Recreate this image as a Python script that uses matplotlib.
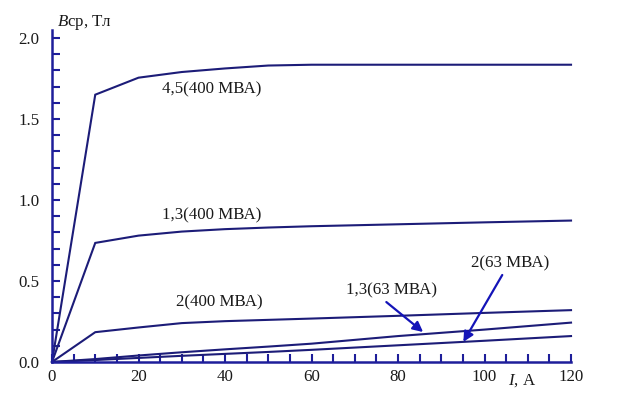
import numpy as np
import matplotlib
matplotlib.use("Agg")
import matplotlib.pyplot as plt
from matplotlib.ticker import MultipleLocator


# =============================
# DATA
# =============================

current_a = [0, 10, 20, 30, 40, 50, 60, 80, 100, 120]

b_45_400 = [0, 1.65, 1.755, 1.79, 1.812, 1.83, 1.835, 1.835, 1.835, 1.835]
b_13_400 = [0, 0.735, 0.78, 0.805, 0.82, 0.83, 0.838, 0.85, 0.862, 0.873]
b_2_400 = [0, 0.184, 0.213, 0.24, 0.252, 0.26, 0.268, 0.285, 0.303, 0.32]
b_13_63 = [0, 0.018, 0.04, 0.06, 0.078, 0.095, 0.113, 0.16, 0.2, 0.243]
b_2_63 = [0, 0.012, 0.025, 0.038, 0.05, 0.062, 0.075, 0.103, 0.131, 0.16]

x_ticks = [0, 20, 40, 60, 80, 100, 120]
y_ticks = [0.0, 0.5, 1.0, 1.5, 2.0]


# =============================
# STYLE
# =============================

plt.rcParams["font.family"] = ["Liberation Serif", "DejaVu Serif"]
plt.rcParams["mathtext.fontset"] = "custom"
plt.rcParams["mathtext.it"] = "Liberation Serif:italic"
plt.rcParams["mathtext.rm"] = "Liberation Serif"

LINE_COLOR = "#1c1c78"
AXIS_COLOR = "#1e1e9a"
ARROW_COLOR = "#1414b8"
TEXT_COLOR = "#1a1a1a"
FS = 12.2


# =============================
# PLOT
# =============================

fig = plt.figure(figsize=(6.19, 4.04), dpi=100)
ax = fig.add_axes([0.084, 0.104, 0.8385, 0.822])

for series in (b_45_400, b_13_400, b_2_400, b_13_63, b_2_63):
    ax.plot(current_a, series, color=LINE_COLOR, linewidth=1.5,
            solid_joinstyle="miter", clip_on=False)

ax.set_xlim(0, 120)
ax.set_ylim(0, 2.05)

ax.spines["top"].set_visible(False)
ax.spines["right"].set_visible(False)
for side in ("left", "bottom"):
    ax.spines[side].set_color(AXIS_COLOR)
    ax.spines[side].set_linewidth(1.8)

ax.set_xticks(x_ticks)
ax.set_yticks(y_ticks)
ax.set_yticklabels([f"{v:.1f}" for v in y_ticks])
ax.xaxis.set_minor_locator(MultipleLocator(5))
ax.yaxis.set_minor_locator(MultipleLocator(0.1))
ax.tick_params(which="both", direction="in", length=6, width=1.5,
               color=AXIS_COLOR, labelcolor=TEXT_COLOR, labelsize=FS)
ax.tick_params(axis="x", pad=5)
ax.tick_params(axis="y", pad=9)

# axis captions
ax.text(0.01, 1.022, "$B$ср, Тл", transform=ax.transAxes, fontsize=FS,
        color=TEXT_COLOR, ha="left", va="center")
ax.text(0.905, -0.055, "$I$, А", transform=ax.transAxes, fontsize=FS,
        color=TEXT_COLOR, ha="center", va="center")

# curve labels
ax.text(37, 1.68, "4,5(400 МВА)", fontsize=FS, color=TEXT_COLOR,
        ha="center", va="center")
ax.text(37, 0.906, "1,3(400 МВА)", fontsize=FS, color=TEXT_COLOR,
        ha="center", va="center")
ax.text(38.6, 0.365, "2(400 МВА)", fontsize=FS, color=TEXT_COLOR,
        ha="center", va="center")
ax.text(78.5, 0.44, "1,3(63 МВА)", fontsize=FS, color=TEXT_COLOR,
        ha="center", va="center")
ax.text(106, 0.61, "2(63 МВА)", fontsize=FS, color=TEXT_COLOR,
        ha="center", va="center")

# arrows to the 63 MVA curves
arrow_style = dict(arrowstyle="-|>", color=ARROW_COLOR, lw=1.6,
                   mutation_scale=15, shrinkA=0, shrinkB=0)
ax.annotate("", xy=(85.8, 0.185), xytext=(77.3, 0.37), arrowprops=arrow_style)
ax.annotate("", xy=(95.1, 0.124), xytext=(104.1, 0.537), arrowprops=arrow_style)

fig.savefig("out.png", dpi=100)
